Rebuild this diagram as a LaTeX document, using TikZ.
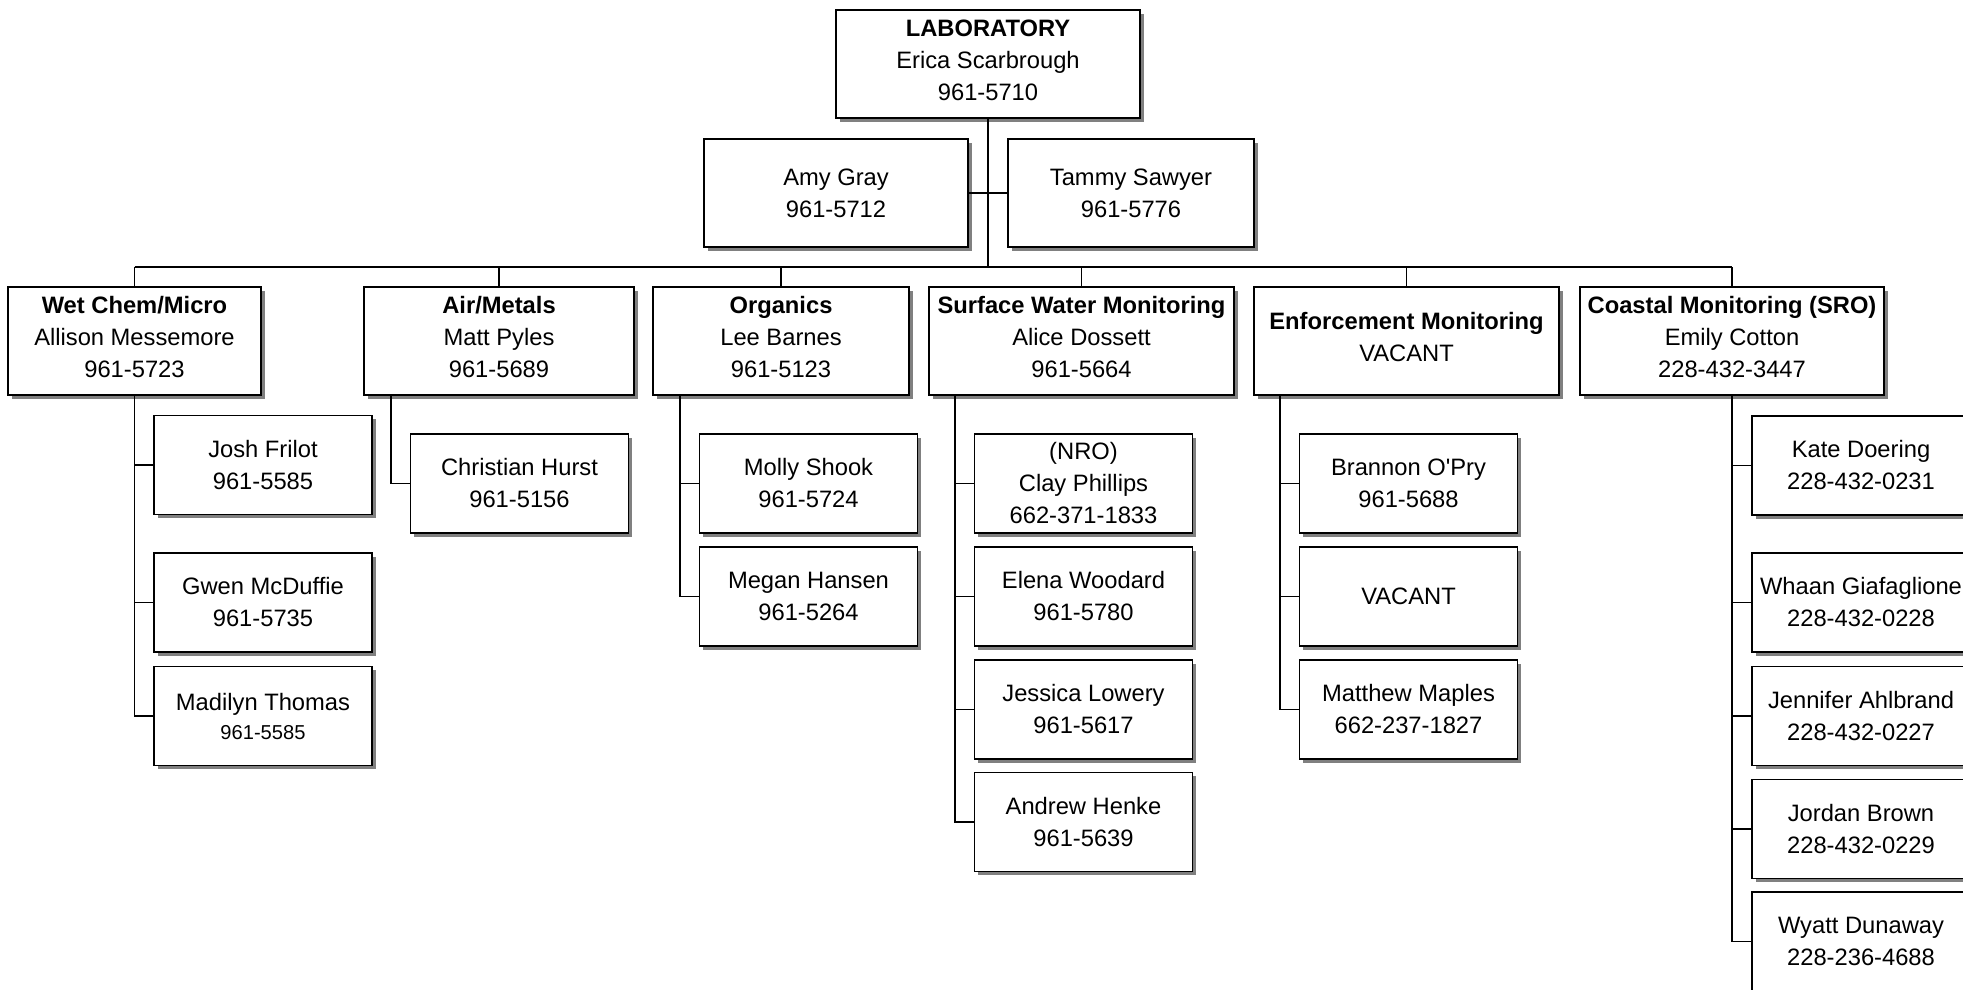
\documentclass[tikz,border=0pt]{standalone}
\usepackage{fontspec}
\setmainfont{Liberation Sans}
\newfontfamily\plainlib{Liberation Sans}
\usetikzlibrary{shadows,calc}
\newcommand\fsz{\fontsize{17.8}{24}\selectfont}
\begin{document}
\begin{tikzpicture}[x=0.75pt,y=-0.75pt,
  box/.style={draw=black, line width=1.4pt, fill=white, align=center, inner sep=0pt,
    font=\plainlib\fsz, drop shadow={shadow xshift=2.8pt, shadow yshift=-2.8pt, fill=black!50, opacity=1}},
  mid/.style={box, minimum width=#1, minimum height=81pt},
  head/.style={box, minimum width=#1, minimum height=81pt, text depth=5.6pt},
  kid/.style={box, minimum width=163.5pt, minimum height=74.25pt},
  conn/.style={draw=black, line width=1.4pt}]
\clip (0,0) rectangle (1963,989);
\fill[white] (0,0) rectangle (1963,989);

% top level
\node[head=228pt] (lab) at (988,64) {\textbf{LABORATORY}\\Erica Scarbrough\\961-5710};
\node[mid=198pt] (amy) at (836,193) {Amy Gray\\961-5712};
\node[mid=184.5pt] (tammy) at (1131,193) {Tammy Sawyer\\961-5776};

% level 2
\node[head=189.75pt] (wet) at (134.5,341) {\textbf{Wet Chem/Micro}\\Allison Messemore\\961-5723};
\node[head=202.5pt] (air) at (499,341) {\textbf{Air/Metals}\\Matt Pyles\\961-5689};
\node[head=192pt] (org) at (781,341) {\textbf{Organics}\\Lee Barnes\\961-5123};
\node[head=228.75pt] (sw) at (1081.5,341) {\textbf{Surface Water Monitoring}\\Alice Dossett\\961-5664};
\node[head=228.75pt] (enf) at (1406.5,341) {\textbf{Enforcement Monitoring}\\VACANT};
\node[head=228pt] (coast) at (1732,341) {\textbf{Coastal Monitoring (SRO)}\\Emily Cotton\\228-432-3447};

% Wet Chem children
\node[kid] (josh) at (263,465) {Josh Frilot\\961-5585};
\node[kid] (gwen) at (263,602.5) {Gwen McDuffie\\961-5735};
\node[kid] (madilyn) at (263,716) {Madilyn Thomas\\[-2.25pt]{\fontsize{15.1}{20}\selectfont 961-5585}};

% Air/Metals child
\node[kid] (christian) at (519.5,483.5) {Christian Hurst\\961-5156};

% Organics children
\node[kid] (molly) at (808.5,483.5) {Molly Shook\\961-5724};
\node[kid] (megan) at (808.5,596.5) {Megan Hansen\\961-5264};

% Surface Water children
\node[kid] (clay) at (1083.5,483.5) {(NRO)\\Clay Phillips\\662-371-1833};
\node[kid] (elena) at (1083.5,596.5) {Elena Woodard\\961-5780};
\node[kid] (jessica) at (1083.5,709.5) {Jessica Lowery\\961-5617};
\node[kid] (andrew) at (1083.5,822) {Andrew Henke\\961-5639};

% Enforcement children
\node[kid] (brannon) at (1408.5,483.5) {Brannon O'Pry\\961-5688};
\node[kid] (vacant) at (1408.5,596.5) {VACANT};
\node[kid] (matthew) at (1408.5,709.5) {Matthew Maples\\662-237-1827};

% Coastal children
\node[kid] (kate) at (1861,465.5) {Kate Doering\\228-432-0231};
\node[kid] (whaan) at (1861,602.5) {Whaan Giafaglione\\228-432-0228};
\node[kid] (jennifer) at (1861,716) {Jennifer Ahlbrand\\228-432-0227};
\node[kid] (jordan) at (1861,829) {Jordan Brown\\228-432-0229};
\node[kid] (wyatt) at (1861,941.5) {Wyatt Dunaway\\228-236-4688};

% connectors
\coordinate (bus) at (988,267);
\coordinate (busL) at (134.5,267);
\coordinate (busR) at (1732,267);
\draw[conn] (lab.south) -- (bus);
\draw[conn] (amy.east) -- (tammy.west);
\draw[conn] (busL) -- (busR);
\foreach \n in {wet,air,org,sw,enf,coast}
  \draw[conn] (\n.north) -- (\n.north |- bus);

% Wet Chem
\draw[conn] (wet.south) |- (madilyn.west);
\foreach \n in {josh,gwen}
  \draw[conn] (\n.west -| wet.south) -- (\n.west);

% Air/Metals
\coordinate (airv) at ([xshift=21pt]air.south west);
\draw[conn] (airv) |- (christian.west);

% Organics
\coordinate (orgv) at ([xshift=21pt]org.south west);
\draw[conn] (orgv) |- (megan.west);
\draw[conn] (molly.west -| orgv) -- (molly.west);

% Surface Water
\coordinate (swv) at ([xshift=20.25pt]sw.south west);
\draw[conn] (swv) |- (andrew.west);
\foreach \n in {clay,elena,jessica}
  \draw[conn] (\n.west -| swv) -- (\n.west);

% Enforcement
\coordinate (enfv) at ([xshift=20.25pt]enf.south west);
\draw[conn] (enfv) |- (matthew.west);
\foreach \n in {brannon,vacant}
  \draw[conn] (\n.west -| enfv) -- (\n.west);

% Coastal
\draw[conn] (coast.south) |- (wyatt.west);
\foreach \n in {kate,whaan,jennifer,jordan}
  \draw[conn] (\n.west -| coast.south) -- (\n.west);
\end{tikzpicture}
\end{document}
